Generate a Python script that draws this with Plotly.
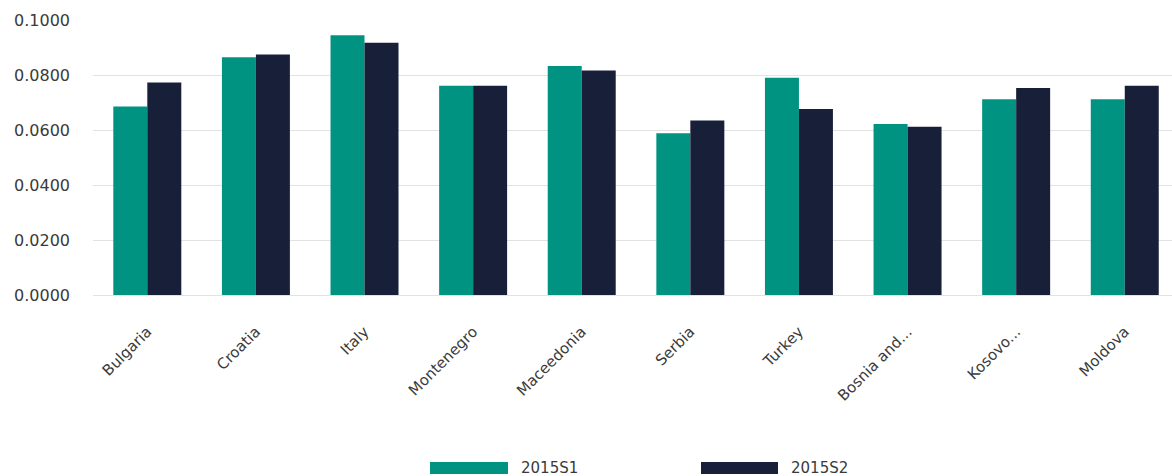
import plotly.graph_objects as go

# Country categories and the two semester series
countries = ["Bulgaria", "Croatia", "Italy", "Montenegro", "Maceedonia",
             "Serbia", "Turkey", "Bosnia and...", "Kosovo...", "Moldova"]
s1_values = [0.0685, 0.0865, 0.0945, 0.0761, 0.0833, 0.0588, 0.0790, 0.0622, 0.0712, 0.0712]
s2_values = [0.0773, 0.0875, 0.0917, 0.0761, 0.0816, 0.0635, 0.0676, 0.0612, 0.0753, 0.0761]
series_names = ["2015S1", "2015S2"]
y_ticks = [0.0, 0.02, 0.04, 0.06, 0.08, 0.10]

TEAL = "#009382"
NAVY = "#172038"
TEXT = "#3a3a3a"
GRID = "#e2e2e2"
FONT = "DejaVu Sans"

fig = go.Figure()
fig.add_trace(go.Bar(x=countries, y=s1_values, name=series_names[0],
                     marker=dict(color=TEAL, line=dict(width=0)), showlegend=False))
fig.add_trace(go.Bar(x=countries, y=s2_values, name=series_names[1],
                     marker=dict(color=NAVY, line=dict(width=0)), showlegend=False))

W, H = 1172, 476
ML, MT, MB = 93, 20, 181
plot_w = W - ML
plot_h = H - MT - MB


def px_x(px):
    return (px - ML) / plot_w


def px_y(py):
    return (H - MB - py) / plot_h


# Hand-built legend with wide swatches below the axis labels
legend_items = [(series_names[0], TEAL, 430, 508, 519),
                (series_names[1], NAVY, 701, 778, 789)]
shapes = []
annotations = []
for name, color, x0, x1, tx in legend_items:
    shapes.append(dict(type="rect", xref="paper", yref="paper",
                       x0=px_x(x0), x1=px_x(x1), y0=px_y(474), y1=px_y(462),
                       fillcolor=color, line=dict(width=0)))
    annotations.append(dict(xref="paper", yref="paper", x=px_x(tx), y=px_y(468),
                            text=name, showarrow=False, xanchor="left", yanchor="middle",
                            font=dict(family=FONT, size=15, color=TEXT)))

fig.update_layout(
    width=W, height=H,
    margin=dict(l=ML, r=0, t=MT, b=MB, pad=0),
    paper_bgcolor="white", plot_bgcolor="white",
    barmode="group", bargap=0.374, bargroupgap=0,
    font=dict(family=FONT, size=15, color=TEXT),
    shapes=shapes, annotations=annotations,
    xaxis=dict(range=[-0.5, 9.435], tickangle=-45, showgrid=False, showline=False,
               ticks="", ticklabelstandoff=24,
               tickfont=dict(family=FONT, size=15, color=TEXT)),
    yaxis=dict(range=[0, 0.1], tickvals=y_ticks, tickformat=".4f",
               showgrid=True, gridcolor=GRID, gridwidth=1,
               zeroline=True, zerolinecolor=GRID, zerolinewidth=1,
               showline=False, ticks="", ticklabelstandoff=22,
               tickfont=dict(family=FONT, size=16, color=TEXT)),
)

fig.write_html("out.html")
